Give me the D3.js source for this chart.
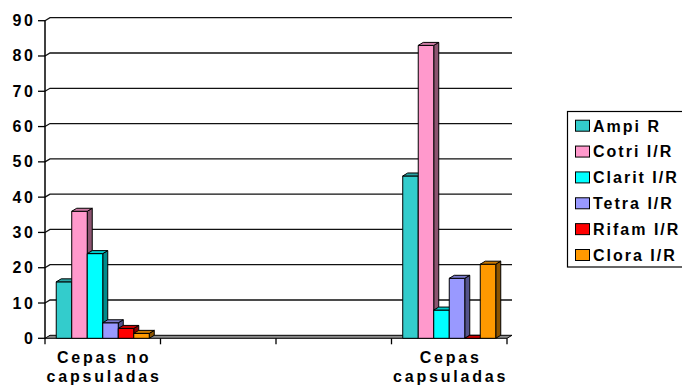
<!DOCTYPE html>
<html>
<head>
<meta charset="utf-8">
<script src="https://cdn.jsdelivr.net/npm/d3@7"></script>
<style>
  html, body { margin: 0; padding: 0; background: #fff; }
  svg { display: block; }
  text { font-family: "Liberation Sans", Arial, sans-serif; font-weight: bold; fill: #000; }
</style>
</head>
<body>
<svg id="chart" width="682" height="389"></svg>
<script>
// Categories (the two middle slots are empty columns)
const categories = ["Cepas no capsuladas", "", "", "Cepas capsuladas"];
const seriesNames = ["Ampi R", "Cotri I/R", "Clarit I/R", "Tetra I/R", "Rifam I/R", "Clora I/R"];
const seriesColors = ["#33CCCC", "#FF99CC", "#00FFFF", "#9999FF", "#FF0000", "#FF9900"];

// Values per series, one per category
const ampiR   = [16,  null, null, 46];
const cotriIR = [36,  null, null, 83];
const claritIR= [24,  null, null, 8];
const tetraIR = [4.4, null, null, 17];
const rifamIR = [2.8, null, null, 0];
const cloraIR = [1.4, null, null, 21];
const seriesValues = [ampiR, cotriIR, claritIR, tetraIR, rifamIR, cloraIR];

const yTicks = [0, 10, 20, 30, 40, 50, 60, 70, 80, 90];

const svg = d3.select("#chart");

// Plot frame and 3D depth offset
const plotLeft = 45, plotRight = 507, plotBottom = 338.3, plotTop = 20.7;
const DX = 5, DY = -3;

const x = d3.scaleBand().domain(d3.range(categories.length)).range([plotLeft, plotRight]).paddingInner(0).paddingOuter(0);
const xs = d3.scaleBand().domain(d3.range(seriesNames.length)).range([0, x.bandwidth()]).paddingInner(0).paddingOuter(0.725);
const y = d3.scaleLinear().domain([0, 90]).range([plotBottom, plotTop]);

const g = svg.append("g");

// Back-wall gridlines with the short diagonal on the side wall
yTicks.filter(t => t > 0).forEach(t => {
  const yy = y(t);
  g.append("path")
    .attr("d", `M${plotLeft},${yy} L${plotLeft + DX},${yy + DY} L${plotRight + DX},${yy + DY}`)
    .attr("fill", "none").attr("stroke", "#111").attr("stroke-width", 1.3);
});

// Floor slab
g.append("path")
  .attr("d", `M${plotLeft},${plotBottom} L${plotLeft + DX},${plotBottom + DY} L${plotRight + DX},${plotBottom + DY} L${plotRight},${plotBottom} Z`)
  .attr("fill", "#8c8c8c").attr("stroke", "#000").attr("stroke-width", 1);

// Y axis line and tick marks
g.append("line").attr("x1", plotLeft).attr("x2", plotLeft).attr("y1", plotTop).attr("y2", plotBottom)
  .attr("stroke", "#000").attr("stroke-width", 1.5);
yTicks.forEach(t => {
  g.append("line").attr("x1", plotLeft - 7).attr("x2", plotLeft).attr("y1", y(t)).attr("y2", y(t))
    .attr("stroke", "#000").attr("stroke-width", 1.3);
});

// Y tick labels
const LS_AX = 2.8;
g.selectAll("text.ytick").data(yTicks).join("text")
  .attr("class", "ytick")
  .attr("x", 33 + LS_AX).attr("y", d => y(d) + 5.5)
  .attr("text-anchor", "end")
  .style("font-size", "16px").style("letter-spacing", LS_AX + "px")
  .text(d => d);

// Category tick marks along the bottom
d3.range(categories.length + 1).forEach(i => {
  const xx = plotLeft + i * x.step();
  g.append("line").attr("x1", xx).attr("x2", xx).attr("y1", plotBottom).attr("y2", plotBottom + 6)
    .attr("stroke", "#000").attr("stroke-width", 1.3);
});

// Category labels, split onto two lines
categories.forEach((c, i) => {
  if (!c) return;
  const k = c.lastIndexOf(" ");
  const lines = [c.slice(0, k), c.slice(k + 1)];
  const cx = x(i) + x.bandwidth() / 2 + LS_AX / 2;
  lines.forEach((ln, j) => {
    g.append("text").attr("x", cx).attr("y", 363 + j * 18.7)
      .attr("text-anchor", "middle")
      .style("font-size", "16px").style("letter-spacing", LS_AX + "px")
      .text(ln);
  });
});

// 3D columns
function shade(col, k) {
  const c = d3.rgb(col);
  return d3.rgb(c.r * k, c.g * k, c.b * k).toString();
}
const bars = g.append("g");
categories.forEach((c, ci) => {
  seriesValues.forEach((vals, si) => {
    const v = vals[ci];
    if (v === null || v === undefined) return;
    const x0 = x(ci) + xs(si), x1 = x0 + xs.bandwidth();
    const y0 = y(0), y1 = y(v);
    const col = seriesColors[si];
    const bg = bars.append("g").attr("stroke", "#000").attr("stroke-width", 1).attr("stroke-linejoin", "round");
    // side face
    bg.append("path")
      .attr("d", `M${x1},${y0} L${x1 + DX},${y0 + DY} L${x1 + DX},${y1 + DY} L${x1},${y1} Z`)
      .attr("fill", shade(col, 0.55));
    // front face
    bg.append("path")
      .attr("d", `M${x0},${y0} L${x1},${y0} L${x1},${y1} L${x0},${y1} Z`)
      .attr("fill", col);
    // top face
    bg.append("path")
      .attr("d", `M${x0},${y1} L${x1},${y1} L${x1 + DX},${y1 + DY} L${x0 + DX},${y1 + DY} Z`)
      .attr("fill", shade(col, 0.8));
  });
});

// Legend
const lg = svg.append("g");
lg.append("rect").attr("x", 567.5).attr("y", 111.5).attr("width", 130).attr("height", 155.5)
  .attr("fill", "#fff").attr("stroke", "#000").attr("stroke-width", 1.2);
const rowY = d3.scaleLinear().domain([0, seriesNames.length - 1]).range([125.7, 255]);
seriesNames.forEach((name, i) => {
  const cy = rowY(i);
  lg.append("rect").attr("x", 575.5).attr("y", cy - 5.5).attr("width", 14).attr("height", 11)
    .attr("fill", seriesColors[i]).attr("stroke", "#000").attr("stroke-width", 1);
  lg.append("text").attr("x", 593).attr("y", cy + 5.8)
    .style("font-size", "16px").style("letter-spacing", "2px")
    .text(name);
});
</script>
</body>
</html>
